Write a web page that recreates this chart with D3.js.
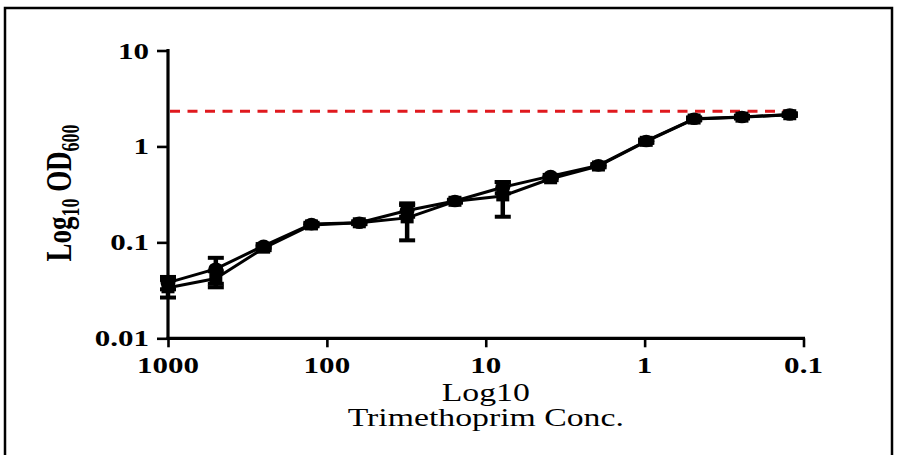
<!DOCTYPE html>
<html>
<head>
<meta charset="utf-8">
<script src="https://cdn.jsdelivr.net/npm/d3@7"></script>
<style>
  html, body { margin: 0; padding: 0; background: #fff; }
  svg { display: block; }
</style>
</head>
<body>
<svg id="chart" width="901" height="455"></svg>
<script>
// Two-fold dilution series of trimethoprim (x) and growth (OD600) for two replicates
const conc = [1000, 500, 250, 125, 62.5, 31.25, 15.625, 7.8125, 3.906, 1.953, 0.977, 0.488, 0.244, 0.122];
const seriesA = [0.038, 0.053, 0.092, 0.155, 0.160, 0.215, 0.270, 0.375, 0.490, 0.635, 1.14, 1.94, 2.03, 2.15];
const errorA  = [0.0056, 0.016, 0.004, 0.005, 0.005, 0.030, 0.008, 0.050, 0.015, 0.020, 0.04, 0.06, 0.06, 0.06];
const seriesB = [0.0336, 0.042, 0.087, 0.152, 0.160, 0.180, 0.268, 0.305, 0.460, 0.625, 1.13, 1.93, 2.02, 2.14];
const errorB  = [0.0070, 0.008, 0.004, 0.005, 0.005, 0.075, 0.008, 0.120, 0.015, 0.020, 0.04, 0.06, 0.06, 0.06];
const threshold = 2.33;

const xTicks = [1000, 100, 10, 1, 0.1];
const xTickLabels = ["1000", "100", "10", "1", "0.1"];
const yTicks = [10, 1, 0.1, 0.01];
const yTickLabels = ["10", "1", "0.1", "0.01"];
const xTitleLines = ["Log10", "Trimethoprim Conc."];

const svg = d3.select("#chart");
const stretch = 1.35; // glyphs are drawn wider than tall

const x = d3.scaleLog().domain([1000, 0.1]).range([168, 803.5]);
const y = d3.scaleLog().domain([0.01, 10]).range([338.3, 50.5]);

// outer frame
svg.append("rect")
  .attr("x", 5).attr("y", 8).attr("width", 887).attr("height", 470)
  .attr("fill", "none").attr("stroke", "#000").attr("stroke-width", 2.5);

// minor tick values (2..9 within each decade)
function minorTicks(lo, hi) {
  const out = [];
  for (let d = lo; d < hi; d *= 10) {
    for (let k = 2; k <= 9; k++) out.push(+(d * k).toPrecision(3));
  }
  return out;
}

// Y axis
const yAxisMajor = d3.axisLeft(y).tickValues(yTicks).tickSize(11).tickFormat("");
const yAxisMinor = d3.axisLeft(y).tickValues(minorTicks(0.01, 10)).tickSize(6).tickFormat("");
const gy = svg.append("g").attr("transform", "translate(168,0)");
gy.call(yAxisMinor);
gy.call(yAxisMajor);
gy.selectAll("path.domain").remove();
gy.selectAll(".tick line").attr("stroke", "#000").attr("stroke-width", 2.6);

svg.append("line")
  .attr("x1", 168).attr("x2", 168)
  .attr("y1", y(10) - 1.5).attr("y2", y(0.01) + 1.5)
  .attr("stroke", "#000").attr("stroke-width", 3.2);

// X axis
const xAxisMajor = d3.axisBottom(x).tickValues(xTicks).tickSize(9).tickFormat("");
const xAxisMinor = d3.axisBottom(x).tickValues(minorTicks(0.1, 1000)).tickSize(6).tickFormat("");
const gx = svg.append("g").attr("transform", `translate(0,${y(0.01)})`);
gx.call(xAxisMinor);
gx.call(xAxisMajor);
gx.selectAll("path.domain").remove();
gx.selectAll(".tick line").attr("stroke", "#000").attr("stroke-width", 2.6);

svg.append("line")
  .attr("x1", x(1000) - 1.5).attr("x2", x(0.1) + 1.5)
  .attr("y1", y(0.01)).attr("y2", y(0.01))
  .attr("stroke", "#000").attr("stroke-width", 3.2);

// tick labels
const tickFont = "'Liberation Serif', 'Times New Roman', serif";
svg.append("g").selectAll("text")
  .data(yTicks)
  .join("text")
  .attr("transform", d => `translate(149,${y(d) + 8}) scale(${stretch},1)`)
  .attr("text-anchor", "end")
  .attr("font-family", tickFont)
  .attr("font-weight", "bold")
  .attr("font-size", 23)
  .text((d, i) => yTickLabels[i]);

svg.append("g").selectAll("text")
  .data(xTicks)
  .join("text")
  .attr("transform", d => `translate(${x(d)},373) scale(${stretch},1)`)
  .attr("text-anchor", "middle")
  .attr("font-family", tickFont)
  .attr("font-weight", "bold")
  .attr("font-size", 23)
  .text((d, i) => xTickLabels[i]);

// axis titles
const yTitle = svg.append("text")
  .attr("transform", `translate(71,193) scale(${stretch},1) rotate(-90)`)
  .attr("text-anchor", "middle")
  .attr("font-family", tickFont)
  .attr("font-weight", "bold")
  .attr("font-size", 27);
yTitle.append("tspan").text("Log");
yTitle.append("tspan").attr("font-size", 18).attr("dy", 6).text("10");
yTitle.append("tspan").attr("dy", -6).text(" OD");
yTitle.append("tspan").attr("font-size", 18).attr("dy", 6).text("600");

// two-line x title as a single text block
const xTitle = svg.append("text")
  .attr("transform", `translate(${x(10)},401) scale(${stretch},1)`)
  .attr("text-anchor", "middle")
  .attr("font-family", tickFont)
  .attr("font-size", 25);
xTitle.selectAll("tspan")
  .data(xTitleLines)
  .join("tspan")
  .attr("x", 0)
  .attr("dy", (d, i) => i === 0 ? 0 : 25)
  .text(d => d);

// threshold line
svg.append("line")
  .attr("x1", x(1000) + 2).attr("x2", x(conc[conc.length - 1]))
  .attr("y1", y(threshold)).attr("y2", y(threshold))
  .attr("stroke", "#e0191e").attr("stroke-width", 3)
  .attr("stroke-dasharray", "10,7.5");

// data series
const series = [
  { values: seriesA, errors: errorA, shape: "circle" },
  { values: seriesB, errors: errorB, shape: "square" }
];

const line = d3.line().x(d => x(d.c)).y(d => y(d.v));

series.forEach(s => {
  const pts = conc.map((c, i) => ({ c, v: s.values[i], e: s.errors[i] }));
  svg.append("path")
    .datum(pts)
    .attr("d", line)
    .attr("fill", "none")
    .attr("stroke", "#000")
    .attr("stroke-width", 3)
    .attr("stroke-linejoin", "round");

  const eb = svg.append("g").attr("stroke", "#000");
  eb.selectAll("line.v")
    .data(pts).join("line").attr("class", "v")
    .attr("x1", d => x(d.c)).attr("x2", d => x(d.c))
    .attr("y1", d => y(d.v + d.e)).attr("y2", d => y(d.v - d.e))
    .attr("stroke-width", 4.5);
  eb.selectAll("line.top")
    .data(pts).join("line").attr("class", "top")
    .attr("x1", d => x(d.c) - 8).attr("x2", d => x(d.c) + 8)
    .attr("y1", d => y(d.v + d.e)).attr("y2", d => y(d.v + d.e))
    .attr("stroke-width", 4);
  eb.selectAll("line.bot")
    .data(pts).join("line").attr("class", "bot")
    .attr("x1", d => x(d.c) - 8).attr("x2", d => x(d.c) + 8)
    .attr("y1", d => y(d.v - d.e)).attr("y2", d => y(d.v - d.e))
    .attr("stroke-width", 4);

  const mk = svg.append("g").attr("fill", "#000");
  if (s.shape === "circle") {
    mk.selectAll("ellipse").data(pts).join("ellipse")
      .attr("cx", d => x(d.c)).attr("cy", d => y(d.v))
      .attr("rx", 7.5).attr("ry", 6.3);
  } else {
    mk.selectAll("rect").data(pts).join("rect")
      .attr("x", d => x(d.c) - 6.5).attr("y", d => y(d.v) - 5.5)
      .attr("width", 13).attr("height", 11);
  }
});
</script>
</body>
</html>
